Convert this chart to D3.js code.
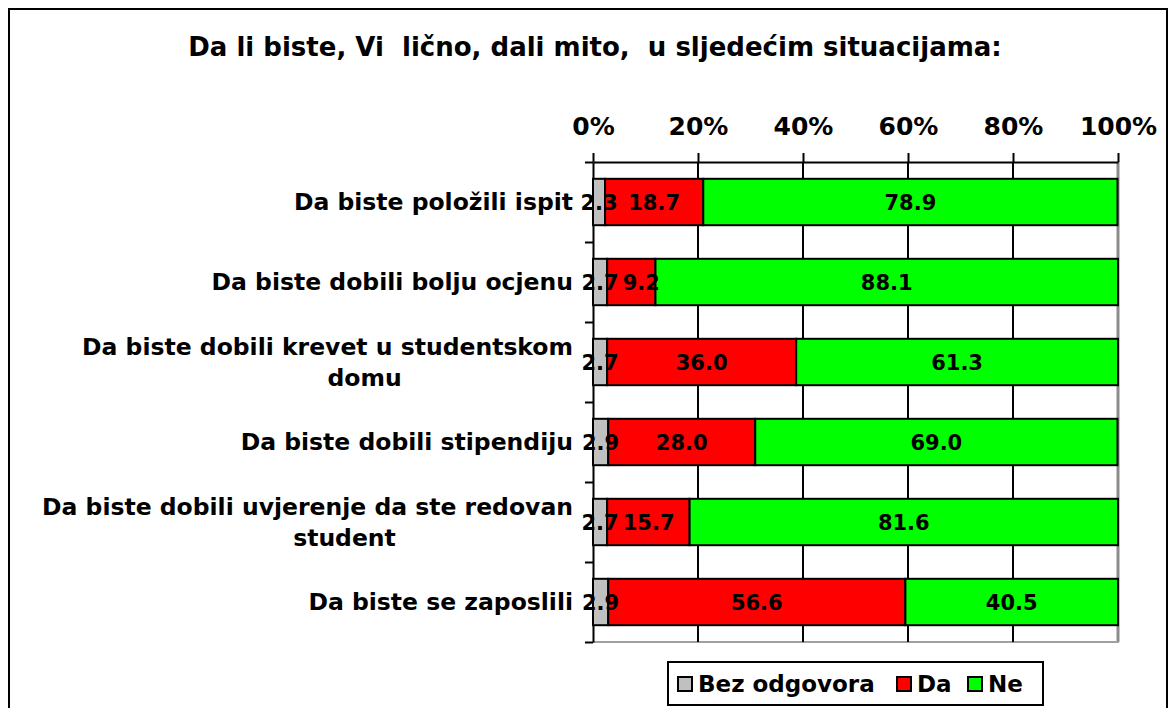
<!DOCTYPE html>
<html>
<head>
<meta charset="utf-8">
<script src="https://cdn.jsdelivr.net/npm/d3@7"></script>
<style>
  html, body { margin: 0; padding: 0; background: #fff; }
  svg { display: block; }
  text { font-family: "DejaVu Sans", Verdana, sans-serif; font-weight: bold; fill: #000; }
</style>
</head>
<body>
<svg id="chart" width="1170" height="708"></svg>
<script>
const title = "Da li biste, Vi  lično, dali mito,  u sljedećim situacijama:";
const categories = [
  ["Da biste položili ispit"],
  ["Da biste dobili bolju ocjenu"],
  ["Da biste dobili krevet u studentskom", "domu"],
  ["Da biste dobili stipendiju"],
  ["Da biste dobili uvjerenje da ste redovan", "student"],
  ["Da biste se zaposlili"]
];
const seriesNames = ["Bez odgovora", "Da", "Ne"];
const seriesColors = ["#c0c0c0", "#ff0000", "#00ff00"];
const bezOdgovora = [2.3, 2.7, 2.7, 2.9, 2.7, 2.9];
const da = [18.7, 9.2, 36.0, 28.0, 15.7, 56.6];
const ne = [78.9, 88.1, 61.3, 69.0, 81.6, 40.5];
const tickValues = [0, 20, 40, 60, 80, 100];

const svg = d3.select("#chart");

// outer frame
svg.append("rect").attr("x", 9).attr("y", 9).attr("width", 1158).attr("height", 720)
  .attr("fill", "none").attr("stroke", "#000").attr("stroke-width", 2);

// title
svg.append("text").attr("x", 595).attr("y", 56).attr("text-anchor", "middle")
  .attr("font-size", 26).style("white-space", "pre").attr("xml:space", "preserve").text(title);

const plotL = 593, plotR = 1118, plotT = 162, plotB = 642;
const x = d3.scaleLinear().domain([0, 100]).range([plotL, plotR]);
const keys = categories.map((c, i) => i);
const y = d3.scaleBand().domain(keys).range([plotT, plotB]).paddingInner(0.42).paddingOuter(0.21);
const yEdge = d3.scaleLinear().domain([0, categories.length]).range([plotT, plotB]);

const rows = keys.map(i => ({ idx: i, "Bez odgovora": bezOdgovora[i], "Da": da[i], "Ne": ne[i] }));
const stack = d3.stack().keys(seriesNames)(rows);

// right & bottom plot edges (gray)
svg.append("line").attr("x1", plotR).attr("x2", plotR).attr("y1", plotT).attr("y2", plotB)
  .attr("stroke", "#8c8c8c").attr("stroke-width", 3);
svg.append("line").attr("x1", plotL).attr("x2", plotR + 1).attr("y1", plotB).attr("y2", plotB)
  .attr("stroke", "#a0a0a0").attr("stroke-width", 2);

// vertical gridlines
svg.append("g").selectAll("line").data(tickValues.filter(t => t > 0 && t < 100)).join("line")
  .attr("x1", d => x(d)).attr("x2", d => x(d)).attr("y1", plotT).attr("y2", plotB)
  .attr("stroke", "#000").attr("stroke-width", 2);

// top axis
const xAxis = d3.axisTop(x).tickValues(tickValues).tickFormat(d => d + "%").tickSize(9).tickSizeOuter(0).tickPadding(18);
const gx = svg.append("g").attr("transform", `translate(0,${plotT})`).call(xAxis);
gx.select(".domain").attr("stroke", "#000").attr("stroke-width", 2);
gx.selectAll(".tick line").attr("stroke", "#000").attr("stroke-width", 2);
gx.selectAll(".tick text").attr("font-size", 25).attr("font-family", "DejaVu Sans").attr("font-weight", "bold").attr("fill", "#000");

// left axis
const yAxis = d3.axisLeft(yEdge).tickValues(d3.range(categories.length + 1)).tickFormat("").tickSize(8).tickSizeOuter(0);
const gy = svg.append("g").attr("transform", `translate(${plotL},0)`).call(yAxis);
gy.select(".domain").attr("stroke", "#000").attr("stroke-width", 2);
gy.selectAll(".tick line").attr("stroke", "#000").attr("stroke-width", 2);

// bars
const layers = svg.append("g").selectAll("g").data(stack).join("g")
  .attr("fill", (d, i) => seriesColors[i]);
layers.selectAll("rect").data(d => d).join("rect")
  .attr("x", d => x(d[0])).attr("width", d => x(d[1]) - x(d[0]))
  .attr("y", d => y(d.data.idx)).attr("height", y.bandwidth())
  .attr("stroke", "#000").attr("stroke-width", 2);

// data labels (centered; shifted right if colliding with the previous label in the row)
const labels = svg.append("g");
keys.forEach(i => {
  let prevRight = -Infinity;
  stack.forEach(layer => {
    const d = layer[i];
    const t = labels.append("text")
      .attr("y", y(i) + y.bandwidth() / 2)
      .attr("dy", "0.36em").attr("text-anchor", "middle").attr("font-size", 21)
      .text(d3.format(".1f")(d[1] - d[0]));
    const w = t.node().getComputedTextLength();
    let cx = x((d[0] + d[1]) / 2);
    if (cx - w / 2 < prevRight + 4) cx = prevRight + 4 + w / 2;
    t.attr("x", cx);
    prevRight = cx + w / 2;
  });
});

// category labels
const catG = svg.append("g");
categories.forEach((lines, i) => {
  const cy = y(i) + y.bandwidth() / 2;
  if (lines.length === 1) {
    catG.append("text").attr("x", 573).attr("y", cy).attr("dy", "0.36em")
      .attr("text-anchor", "end").attr("font-size", 23.5).text(lines[0]);
  } else {
    const t1 = catG.append("text").attr("x", 573).attr("y", cy - 15).attr("dy", "0.36em")
      .attr("text-anchor", "end").attr("font-size", 23.5).text(lines[0]);
    const w1 = t1.node().getComputedTextLength();
    catG.append("text").attr("x", 573 - w1 / 2 + 37).attr("y", cy + 16).attr("dy", "0.36em")
      .attr("text-anchor", "middle").attr("font-size", 23.5).text(lines[1]);
  }
});

// legend
const lg = svg.append("g");
lg.append("rect").attr("x", 668).attr("y", 662).attr("width", 375).attr("height", 43)
  .attr("fill", "#fff").attr("stroke", "#000").attr("stroke-width", 2);
const legendX = [678, 897, 968];
seriesNames.forEach((name, i) => {
  lg.append("rect").attr("x", legendX[i]).attr("y", 677).attr("width", 14).attr("height", 14)
    .attr("fill", seriesColors[i]).attr("stroke", "#000").attr("stroke-width", 2);
  lg.append("text").attr("x", legendX[i] + 20).attr("y", 684).attr("dy", "0.36em")
    .attr("font-size", 23).text(name);
});
</script>
</body>
</html>
